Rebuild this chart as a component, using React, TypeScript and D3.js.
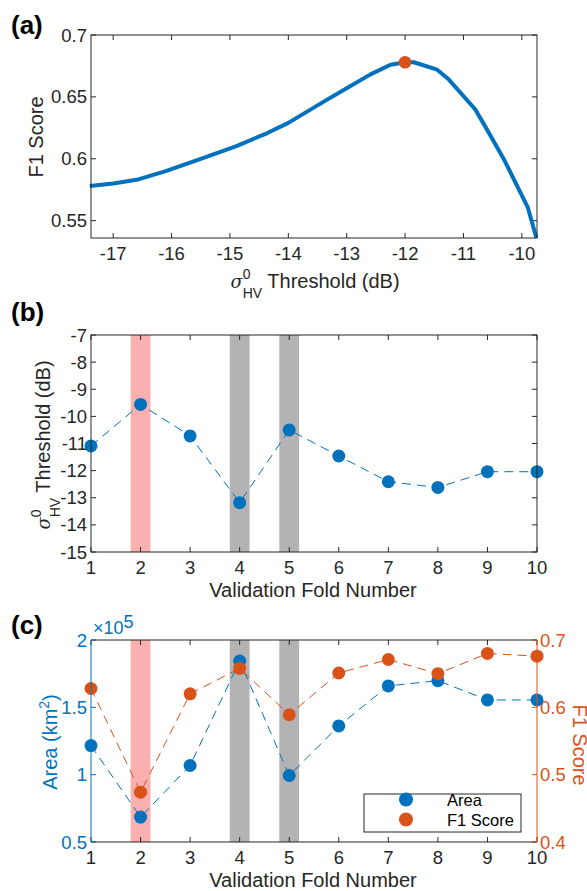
import React from 'react';
import * as d3 from 'd3';

// ---------- data ----------
const thrX = [-17.4, -17.0, -16.6, -16.1, -15.5, -14.9, -14.35, -14.0, -13.4, -13.0, -12.6, -12.25, -12.0, -11.85, -11.45, -11.25, -10.8, -10.65, -10.3, -9.9, -9.75];
const thrF1 = [0.578, 0.580, 0.583, 0.590, 0.600, 0.610, 0.621, 0.629, 0.646, 0.657, 0.668, 0.676, 0.678, 0.678, 0.672, 0.664, 0.640, 0.628, 0.599, 0.561, 0.536];
const bestThr = -12.0;
const bestF1 = 0.678;
const aXTicks = [-17, -16, -15, -14, -13, -12, -11, -10];
const aYTicks = [0.55, 0.6, 0.65, 0.7];

const folds = [1, 2, 3, 4, 5, 6, 7, 8, 9, 10];
const foldThreshold = [-11.09, -9.56, -10.72, -13.18, -10.5, -11.46, -12.41, -12.62, -12.04, -12.04];
const bYTicks = [-15, -14, -13, -12, -11, -10, -9, -8, -7];

const foldArea = [1.216, 0.685, 1.068, 1.844, 0.994, 1.362, 1.659, 1.698, 1.555, 1.555];
const foldF1 = [0.628, 0.474, 0.620, 0.658, 0.589, 0.651, 0.671, 0.650, 0.680, 0.676];
const cLeftTicks = [0.5, 1, 1.5, 2];
const cRightTicks = [0.4, 0.5, 0.6, 0.7];

const pinkBands = [2];
const grayBands = [4, 5];

// ---------- style ----------
const FONT = "'Liberation Sans', Arial, Helvetica, sans-serif";
const TXT = '#262626';
const BLUE = '#0072BD';
const ORANGE = '#D95319';
const PINK = '#fbb0b0';
const GRAY = '#b3b3b3';
const TICK = 5;

const L = 91, R = 537;
const A = { top: 35, bottom: 238 };
const B = { top: 335, bottom: 552 };
const C = { top: 640, bottom: 842 };

const fmt = (v: number) => String(v);

function SigmaLabel({ x, y, rotate }: { x: number; y: number; rotate?: number }) {
  return (
    <g transform={`translate(${x},${y})${rotate ? ` rotate(${rotate})` : ''}`}>
      <text textAnchor="middle" fontFamily={FONT} fontSize={20} fill={TXT}>
        <tspan fontStyle="italic" fontFamily="'DejaVu Serif', serif" fontSize={18}>σ</tspan>
        <tspan fontSize={14} dy={-9}>0</tspan>
        <tspan fontSize={14} dx={-7.8} dy={19}>HV</tspan>
        <tspan dy={-10}> Threshold (dB)</tspan>
      </text>
    </g>
  );
}

function XTicks({ x, top, bottom, ticks, color = TXT }: any) {
  return (
    <g>
      {ticks.map((t: number) => (
        <g key={t}>
          <line x1={x(t)} x2={x(t)} y1={bottom} y2={bottom - TICK} stroke={color} />
          <line x1={x(t)} x2={x(t)} y1={top} y2={top + TICK} stroke={color} />
          <text x={x(t)} y={bottom + 21.5} textAnchor="middle" fontFamily={FONT} fontSize={18.5} fill={color}>
            {fmt(t)}
          </text>
        </g>
      ))}
    </g>
  );
}

function YTicks({ y, ticks, side, color = TXT, mirror = true, labelFmt = fmt }: any) {
  const x0 = side === 'left' ? L : R;
  const dir = side === 'left' ? 1 : -1;
  return (
    <g>
      {ticks.map((t: number) => (
        <g key={t}>
          <line x1={x0} x2={x0 + dir * TICK} y1={y(t)} y2={y(t)} stroke={color} />
          {mirror && <line x1={R} x2={R - TICK} y1={y(t)} y2={y(t)} stroke={color} />}
          <text
            x={side === 'left' ? L - 4 : R + 3}
            y={y(t) + 6.5}
            textAnchor={side === 'left' ? 'end' : 'start'}
            fontFamily={FONT}
            fontSize={18.5}
            fill={color}
          >
            {labelFmt(t)}
          </text>
        </g>
      ))}
    </g>
  );
}

function Bands({ x, top, bottom }: any) {
  return (
    <g>
      {pinkBands.map((b) => (
        <rect key={'p' + b} x={x(b - 0.2)} y={top} width={x(b + 0.2) - x(b - 0.2)} height={bottom - top} fill={PINK} />
      ))}
      {grayBands.map((b) => (
        <rect key={'g' + b} x={x(b - 0.2)} y={top} width={x(b + 0.2) - x(b - 0.2)} height={bottom - top} fill={GRAY} />
      ))}
    </g>
  );
}

export default function App() {
  // Panel (a)
  const xa = d3.scaleLinear().domain([-17.38, -9.74]).range([L, R]);
  const ya = d3.scaleLinear().domain([0.536, 0.7]).range([A.bottom, A.top]);
  const lineA = d3.line<number>().x((_, i) => xa(thrX[i])).y((d) => ya(d));

  // Panel (b)
  const xb = d3.scaleLinear().domain([1, 10]).range([L, R]);
  const yb = d3.scaleLinear().domain([-15, -7]).range([B.bottom, B.top]);
  const lineB = d3.line<number>().x((_, i) => xb(folds[i])).y((d) => yb(d));

  // Panel (c)
  const xc = d3.scaleLinear().domain([1, 10]).range([L, R]);
  const ycL = d3.scaleLinear().domain([0.5, 2]).range([C.bottom, C.top]);
  const ycR = d3.scaleLinear().domain([0.4, 0.7]).range([C.bottom, C.top]);
  const lineCA = d3.line<number>().x((_, i) => xc(folds[i])).y((d) => ycL(d));
  const lineCF = d3.line<number>().x((_, i) => xc(folds[i])).y((d) => ycR(d));

  const dash = '9,6';

  return (
    <svg width={587} height={891} style={{ position: 'absolute', left: 0, top: 0, display: 'block', background: '#fff' }}>
      <rect x={0} y={0} width={587} height={891} fill="#fff" />

      {/* ---------- (a) ---------- */}
      <text x={11} y={34} fontFamily={FONT} fontWeight="bold" fontSize={26} fill="#000">(a)</text>
      <XTicks x={xa} top={A.top} bottom={A.bottom} ticks={aXTicks} />
      <YTicks y={ya} ticks={aYTicks} side="left" />
      <path d={lineA(thrF1) || ''} fill="none" stroke={BLUE} strokeWidth={4} strokeLinejoin="round" />
      <circle cx={xa(bestThr)} cy={ya(bestF1)} r={6.3} fill={ORANGE} />
      <rect x={L} y={A.top} width={R - L} height={A.bottom - A.top} fill="none" stroke={TXT} />
      <g transform={`translate(43,137) rotate(-90)`}>
        <text textAnchor="middle" fontFamily={FONT} fontSize={20} fill={TXT}>F1 Score</text>
      </g>
      <SigmaLabel x={315} y={288} />

      {/* ---------- (b) ---------- */}
      <text x={11} y={321} fontFamily={FONT} fontWeight="bold" fontSize={26} fill="#000">(b)</text>
      <Bands x={xb} top={B.top} bottom={B.bottom} />
      <XTicks x={xb} top={B.top} bottom={B.bottom} ticks={folds} />
      <YTicks y={yb} ticks={bYTicks} side="left" />
      <path d={lineB(foldThreshold) || ''} fill="none" stroke={BLUE} strokeWidth={1} strokeDasharray={dash} />
      {foldThreshold.map((v, i) => (
        <circle key={i} cx={xb(folds[i])} cy={yb(v)} r={6.5} fill={BLUE} />
      ))}
      <rect x={L} y={B.top} width={R - L} height={B.bottom - B.top} fill="none" stroke={TXT} />
      <SigmaLabel x={50} y={445} rotate={-90} />
      <text x={313} y={597} textAnchor="middle" fontFamily={FONT} fontSize={20} fill={TXT}>Validation Fold Number</text>

      {/* ---------- (c) ---------- */}
      <text x={11} y={634} fontFamily={FONT} fontWeight="bold" fontSize={26} fill="#000">(c)</text>
      <Bands x={xc} top={C.top} bottom={C.bottom} />
      <XTicks x={xc} top={C.top} bottom={C.bottom} ticks={folds} />
      <YTicks y={ycL} ticks={cLeftTicks} side="left" color={BLUE} mirror={false} />
      <YTicks y={ycR} ticks={cRightTicks} side="right" color={ORANGE} mirror={false} />
      <path d={lineCA(foldArea) || ''} fill="none" stroke={BLUE} strokeWidth={1} strokeDasharray={dash} />
      <path d={lineCF(foldF1) || ''} fill="none" stroke={ORANGE} strokeWidth={1} strokeDasharray={dash} />
      {foldArea.map((v, i) => (
        <circle key={'a' + i} cx={xc(folds[i])} cy={ycL(v)} r={6.5} fill={BLUE} />
      ))}
      {foldF1.map((v, i) => (
        <circle key={'f' + i} cx={xc(folds[i])} cy={ycR(v)} r={6.5} fill={ORANGE} />
      ))}
      <line x1={L} x2={R} y1={C.top} y2={C.top} stroke={TXT} />
      <line x1={L} x2={R} y1={C.bottom} y2={C.bottom} stroke={TXT} />
      <line x1={L} x2={L} y1={C.top} y2={C.bottom} stroke={BLUE} />
      <line x1={R} x2={R} y1={C.top} y2={C.bottom} stroke={ORANGE} />
      <text x={93} y={634} fontFamily={FONT} fontSize={18} fill={BLUE}>
        ×10<tspan dy={-6}>5</tspan>
      </text>
      <g transform={`translate(57,742) rotate(-90)`}>
        <text textAnchor="middle" fontFamily={FONT} fontSize={20} fill={BLUE}>
          Area (km<tspan fontSize={14} dy={-8}>2</tspan><tspan dy={8}>)</tspan>
        </text>
      </g>
      <g transform={`translate(573,745) rotate(90)`}>
        <text textAnchor="middle" fontFamily={FONT} fontSize={20} fill={ORANGE}>F1 Score</text>
      </g>
      <text x={313} y={887} textAnchor="middle" fontFamily={FONT} fontSize={20} fill={TXT}>Validation Fold Number</text>

      {/* legend */}
      <g>
        <rect x={364} y={794} width={157} height={38} fill="#fff" stroke={TXT} />
        <circle cx={406} cy={799.5} r={7} fill={BLUE} />
        <circle cx={406} cy={819.5} r={7} fill={ORANGE} />
        <text x={447} y={805.5} fontFamily={FONT} fontSize={16.5} fill="#000">Area</text>
        <text x={447} y={825.5} fontFamily={FONT} fontSize={16.5} fill="#000">F1 Score</text>
      </g>
    </svg>
  );
}
